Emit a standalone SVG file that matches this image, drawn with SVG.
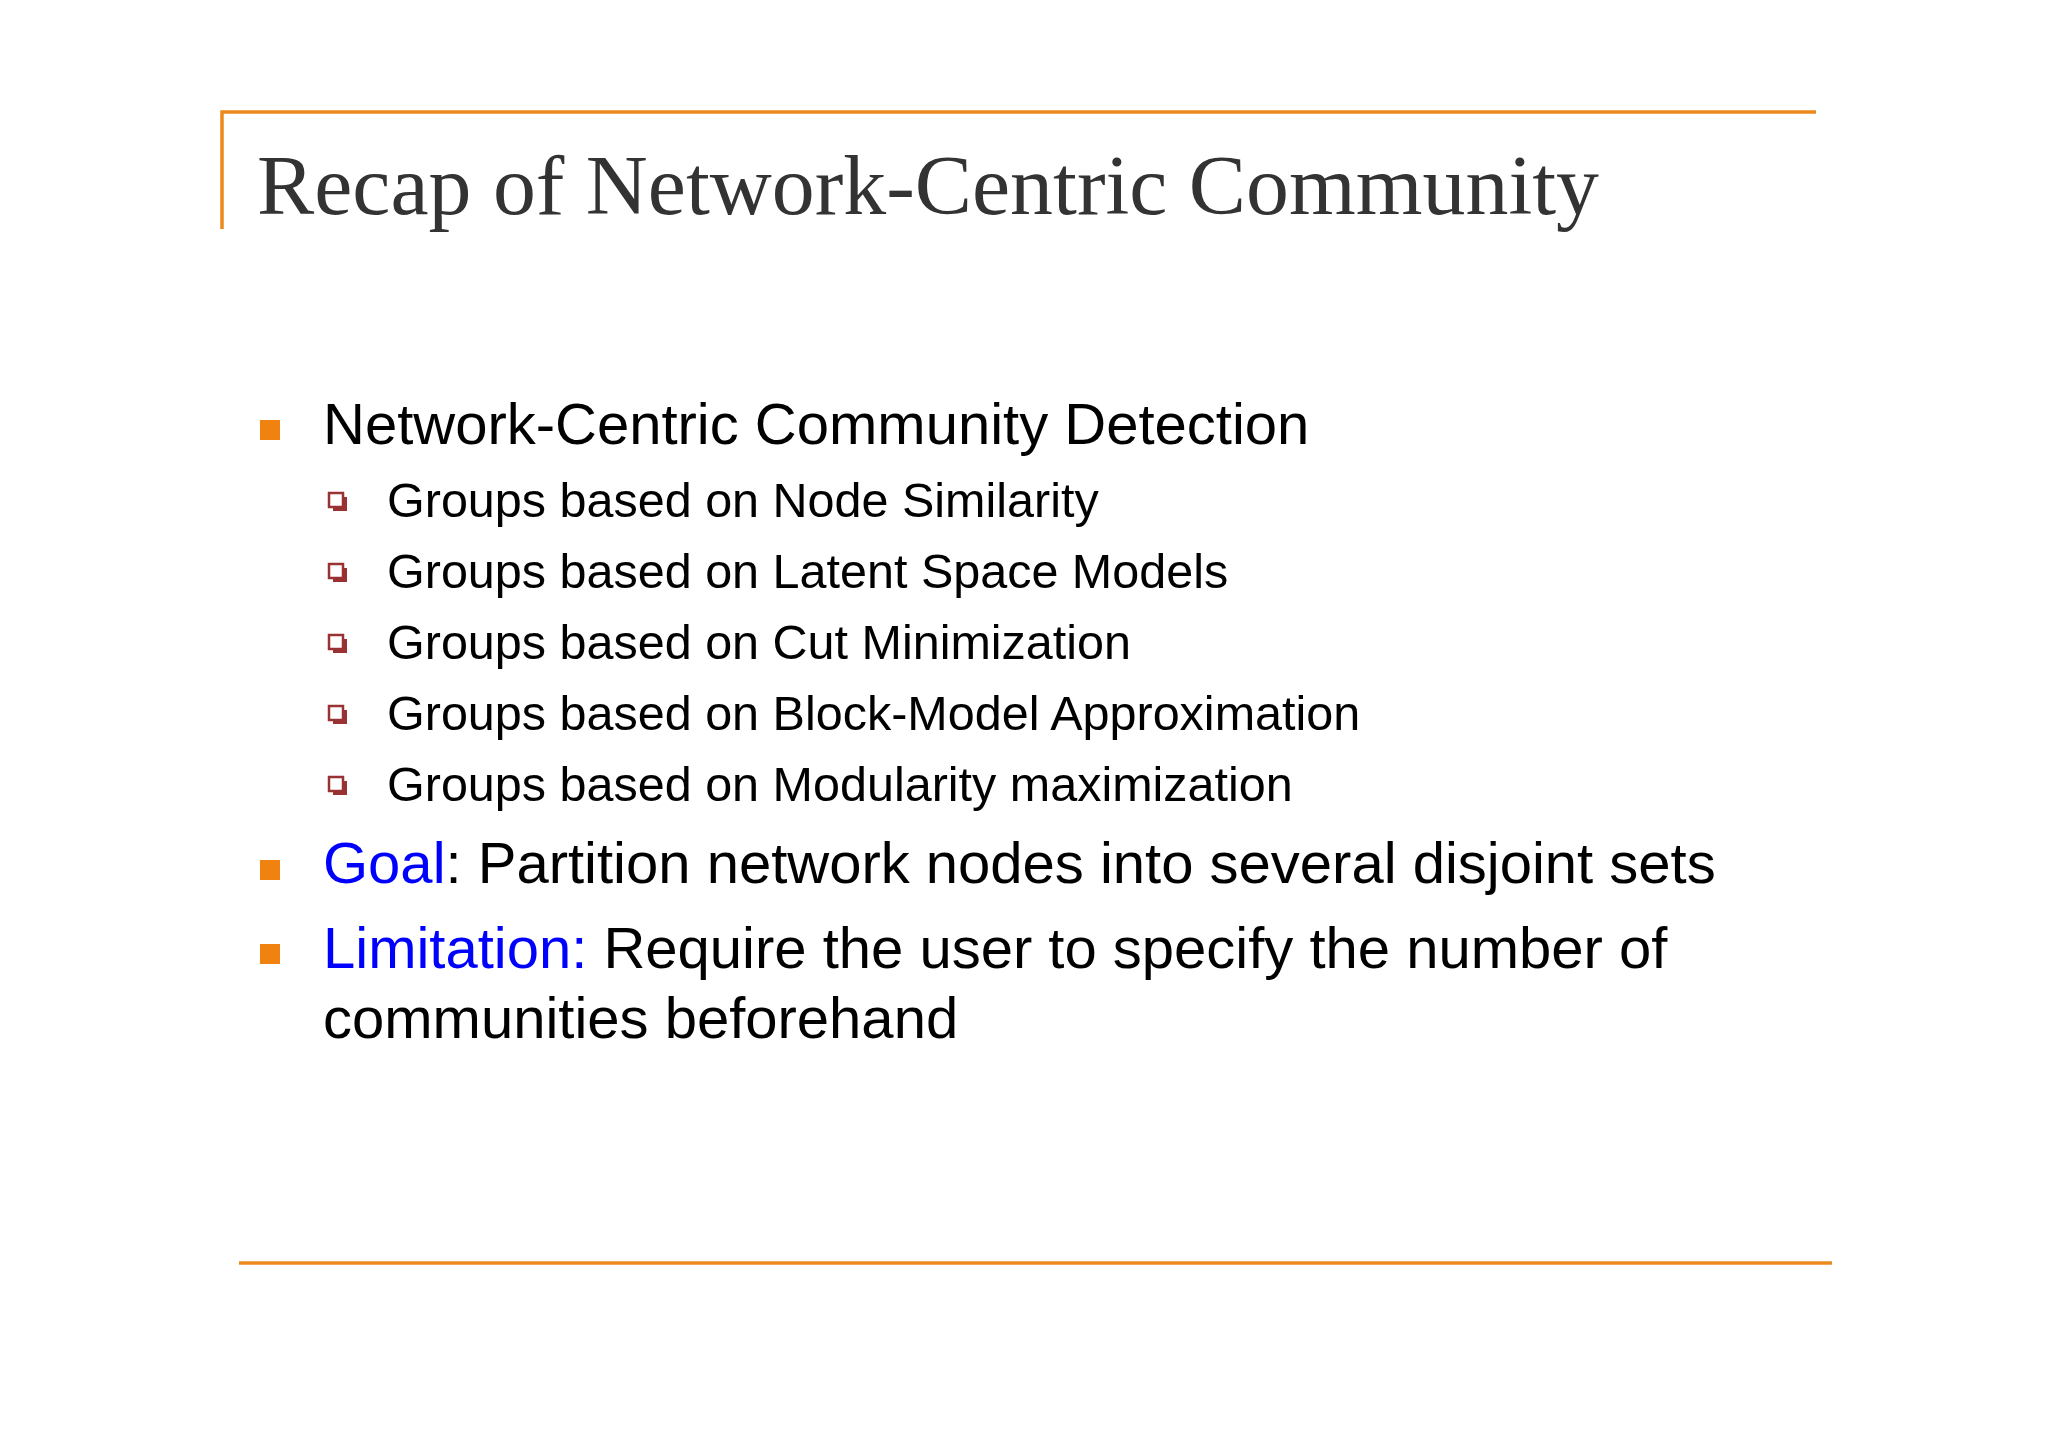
<svg xmlns="http://www.w3.org/2000/svg" width="2048" height="1448" viewBox="0 0 2048 1448">
<style>
.t{font-family:"Liberation Sans",Arial,sans-serif;fill:#000}
.m{font-size:58px}
.s{font-size:48.5px}
.b{fill:#f0820f}
.q{fill:#fff;stroke:#993333;stroke-width:2.5}
.blue{fill:#0000ff}
</style>
<rect width="2048" height="1448" fill="#fff"/>
<g id="frame" stroke="#ec8a1e" stroke-width="3.5" fill="none">
<path d="M222 229 V112 H1816"/>
<path d="M239 1263 H1832"/>
</g>
<g id="title"><text x="257" y="214" font-family="'Liberation Serif',Garamond,serif" font-size="84" fill="#333" textLength="1342" lengthAdjust="spacingAndGlyphs">Recap of Network-Centric Community</text></g>
<g id="main">
<rect class="b" x="260" y="420" width="20" height="20"/>
<text class="t m" x="323" y="444">Network-Centric Community Detection</text>
</g>
<g id="subs">
<rect x="333" y="497" width="14" height="14" fill="#993333"/><rect class="q" x="329" y="493" width="14" height="14"/>
<text class="t s" x="387" y="517">Groups based on Node Similarity</text>
<rect x="333" y="568" width="14" height="14" fill="#993333"/><rect class="q" x="329" y="564" width="14" height="14"/>
<text class="t s" x="387" y="588">Groups based on Latent Space Models</text>
<rect x="333" y="639" width="14" height="14" fill="#993333"/><rect class="q" x="329" y="635" width="14" height="14"/>
<text class="t s" x="387" y="659">Groups based on Cut Minimization</text>
<rect x="333" y="710" width="14" height="14" fill="#993333"/><rect class="q" x="329" y="706" width="14" height="14"/>
<text class="t s" x="387" y="730">Groups based on Block-Model Approximation</text>
<rect x="333" y="781" width="14" height="14" fill="#993333"/><rect class="q" x="329" y="777" width="14" height="14"/>
<text class="t s" x="387" y="801">Groups based on Modularity maximization</text>
</g>
<g id="goal">
<rect class="b" x="260" y="860" width="20" height="20"/>
<text class="t m" x="323" y="883"><tspan class="blue">Goal</tspan>: Partition network nodes into several disjoint sets</text>
</g>
<g id="limitation">
<rect class="b" x="260" y="944" width="20" height="20"/>
<text class="t m" x="323" y="968"><tspan class="blue">Limitation:</tspan> Require the user to specify the number of</text>
<text class="t m" x="323" y="1038">communities beforehand</text>
</g>
</svg>
